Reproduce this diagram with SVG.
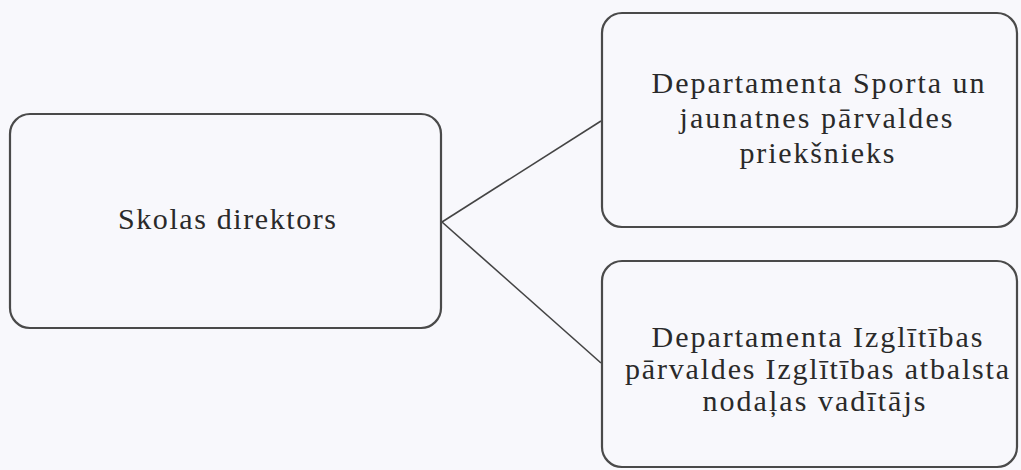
<svg xmlns="http://www.w3.org/2000/svg" width="1021" height="470" viewBox="0 0 1021 470">
<style>
.box{fill:none;stroke:#4a4a4a;stroke-width:2.2}
.t{font-family:"Liberation Serif","Times New Roman",serif;font-size:30px;fill:#2a2a2a;text-anchor:middle}
.c{stroke:#444;stroke-width:1.6;fill:none}
</style>
<rect width="1021" height="470" fill="#f8f8fc"/>
<g id="connectors">
<line class="c" x1="442" y1="222" x2="601" y2="121"/>
<line class="c" x1="442" y1="222" x2="601" y2="363"/>
</g>
<g id="n1">
<rect class="box" x="10" y="114" width="431" height="214" rx="20"/>
<text class="t" x="227" y="229" textLength="218" lengthAdjust="spacing">Skolas direktors</text>
</g>
<g id="n2">
<rect class="box" x="602" y="13" width="415" height="214" rx="20"/>
<text class="t" x="818" y="93" textLength="333" lengthAdjust="spacing">Departamenta Sporta un</text>
<text class="t" x="816" y="128" textLength="273" lengthAdjust="spacing">jaunatnes pārvaldes</text>
<text class="t" x="817" y="163" textLength="155" lengthAdjust="spacing">priekšnieks</text>
</g>
<g id="n3">
<rect class="box" x="602" y="261" width="415" height="206" rx="20"/>
<text class="t" x="817" y="347" textLength="331" lengthAdjust="spacing">Departamenta Izglītības</text>
<text class="t" x="817" y="379" textLength="384" lengthAdjust="spacing">pārvaldes Izglītības atbalsta</text>
<text class="t" x="814" y="411" textLength="223" lengthAdjust="spacing">nodaļas vadītājs</text>
</g>
</svg>
